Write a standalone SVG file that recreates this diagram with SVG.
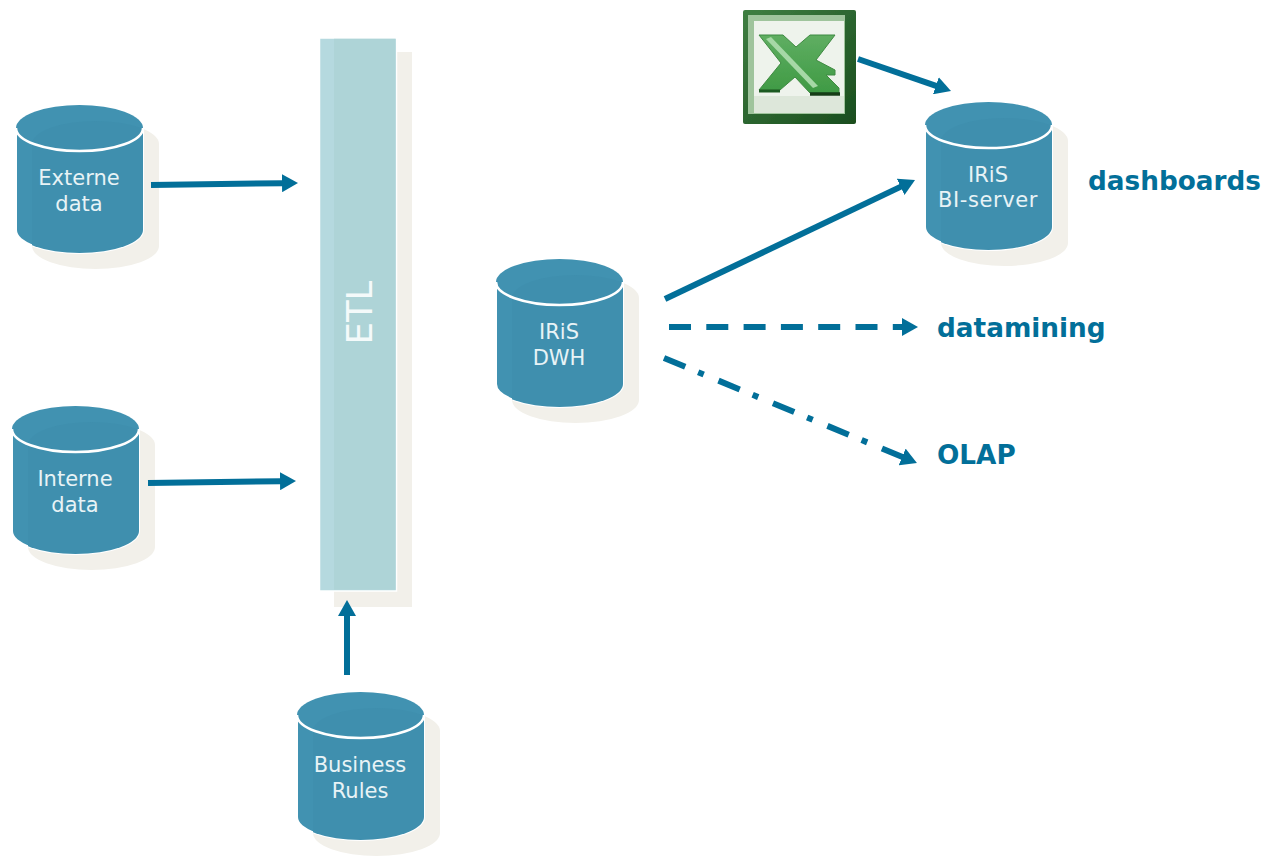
<svg xmlns="http://www.w3.org/2000/svg" width="1265" height="857" viewBox="0 0 1265 857">
<style>
.cyl-shadow{fill:#f2f0ea}
.cyl-body{fill:#4192b1;stroke:#fff;stroke-width:2}
.cyl-inner{fill:#3f8fae}
.cyl-top{fill:#4192b1}
.cyl-rim{fill:none;stroke:#fff;stroke-width:2.500}
.cyl-text{font-family:"DejaVu Sans",Verdana,sans-serif;font-size:21px;fill:#e8f3f6;text-anchor:middle}
.lab{font-family:"DejaVu Sans",Verdana,sans-serif;font-size:26.300px;font-weight:700;fill:#026f99}
.arrow{stroke:#026f99;stroke-width:6;fill:none}
</style>
<defs>
<marker id="ah" viewBox="0 0 16 18" refX="1" refY="9" markerUnits="userSpaceOnUse" markerWidth="16" markerHeight="18" orient="auto"><path d="M0 0L16 9L0 18z" fill="#026f99"/></marker>
<clipPath id="cyl-clip"><path d="M0 23A63.500 23 0 0 1 127 23V125A63.500 23 0 0 1 0 125z"/></clipPath>
<linearGradient id="xl-frame" x1="0" y1="0" x2="1" y2="1"><stop offset="0" stop-color="#3f7f42"/><stop offset="1" stop-color="#1a4d1e"/></linearGradient>
<linearGradient id="xl-arm" x1="0" y1="0" x2="0" y2="1"><stop offset="0" stop-color="#5fae62"/><stop offset="1" stop-color="#3f9a44"/></linearGradient>
<filter id="soft"><feGaussianBlur stdDeviation="0.600"/></filter>
<g id="cyl">
<path class="cyl-shadow" d="M16 39A63.500 23 0 0 1 143 39V141A63.500 23 0 0 1 16 141z"/>
<path class="cyl-body" d="M0 23V125A63.500 23 0 0 0 127 125V23z"/>
<ellipse class="cyl-top" cx="63.500" cy="23" rx="63.500" ry="23"/>
<path class="cyl-inner" clip-path="url(#cyl-clip)" d="M16 39A63.500 23 0 0 1 143 39V141A63.500 23 0 0 1 16 141z"/>
<path class="cyl-rim" d="M0 23A63.500 23 0 0 0 127 23"/>
</g>
</defs>
<g id="etl">
<rect x="334" y="52" width="78" height="555" fill="#f2f0ea"/>
<rect x="319.500" y="38" width="77" height="553" fill="#b5d9df" stroke="#fff" stroke-width="1.500"/>
<rect x="334" y="38.800" width="61.500" height="551" fill="#aed4d7"/>
<text transform="translate(372 344.500) rotate(-90)" font-family="'DejaVu Sans',Verdana,sans-serif" font-size="35.500" fill="#f4fafa">ETL</text>
</g>
<g id="externe"><use href="#cyl" x="16" y="105"/><text class="cyl-text" x="79" y="185">Externe</text><text class="cyl-text" x="79" y="211">data</text></g>
<g id="interne"><use href="#cyl" x="12" y="406"/><text class="cyl-text" x="75" y="486">Interne</text><text class="cyl-text" x="75" y="512">data</text></g>
<g id="business"><use href="#cyl" x="297" y="692"/><text class="cyl-text" x="360" y="772">Business</text><text class="cyl-text" x="360" y="798">Rules</text></g>
<g id="dwh"><use href="#cyl" x="496" y="259"/><text class="cyl-text" x="559" y="339">IRiS</text><text class="cyl-text" x="559" y="365">DWH</text></g>
<g id="bi"><use href="#cyl" x="925" y="102"/><text class="cyl-text" x="988" y="182">IRiS</text><text class="cyl-text" x="988" y="207" letter-spacing=".6">BI-server</text></g>
<g id="excel">
<g filter="url(#soft)">
<rect x="743" y="10" width="113" height="114" rx="2" fill="url(#xl-frame)"/>
<rect x="748" y="15" width="97" height="99" fill="#9fc49c"/>
<rect x="754" y="21" width="90" height="92" fill="#eef3ec"/>
<rect x="754" y="96" width="90" height="17" fill="#dde7da"/>
<path d="M759 35H783L796 47L810 35H835L816 60L835 70V75H826L839 88V93H810L795 77L780 90H759L781 63z" fill="url(#xl-arm)" stroke="#3f8a42" stroke-width="1"/>
<path d="M766 39L771 37L818 86L813 88z" fill="#a6d8a6"/>
<path d="M759 91H780" stroke="#1f5a22" stroke-width="3" fill="none"/>
<path d="M810 94H840" stroke="#143c18" stroke-width="3.500" fill="none"/>
</g>
</g>
<g id="dashboards"><text class="lab" x="1088" y="190">dashboards</text></g>
<g id="datamining"><text class="lab" x="937" y="337">datamining</text></g>
<g id="olap"><text class="lab" x="937" y="464">OLAP</text></g>
<g id="connectors">
<path class="arrow" marker-end="url(#ah)" d="M151 185L283 183.200"/>
<path class="arrow" marker-end="url(#ah)" d="M148 483L281 481.200"/>
<path class="arrow" marker-end="url(#ah)" d="M347 675V615"/>
<path class="arrow" marker-end="url(#ah)" d="M858 59L936.800 86.100"/>
<path class="arrow" marker-end="url(#ah)" d="M665 299L901.500 186.400"/>
<path class="arrow" marker-end="url(#ah)" stroke-dasharray="22 15.300" d="M669 327H903"/>
<path class="arrow" marker-end="url(#ah)" stroke-dasharray="23 14 6 16" d="M664 358L903.100 457.300"/>
</g>
</svg>
